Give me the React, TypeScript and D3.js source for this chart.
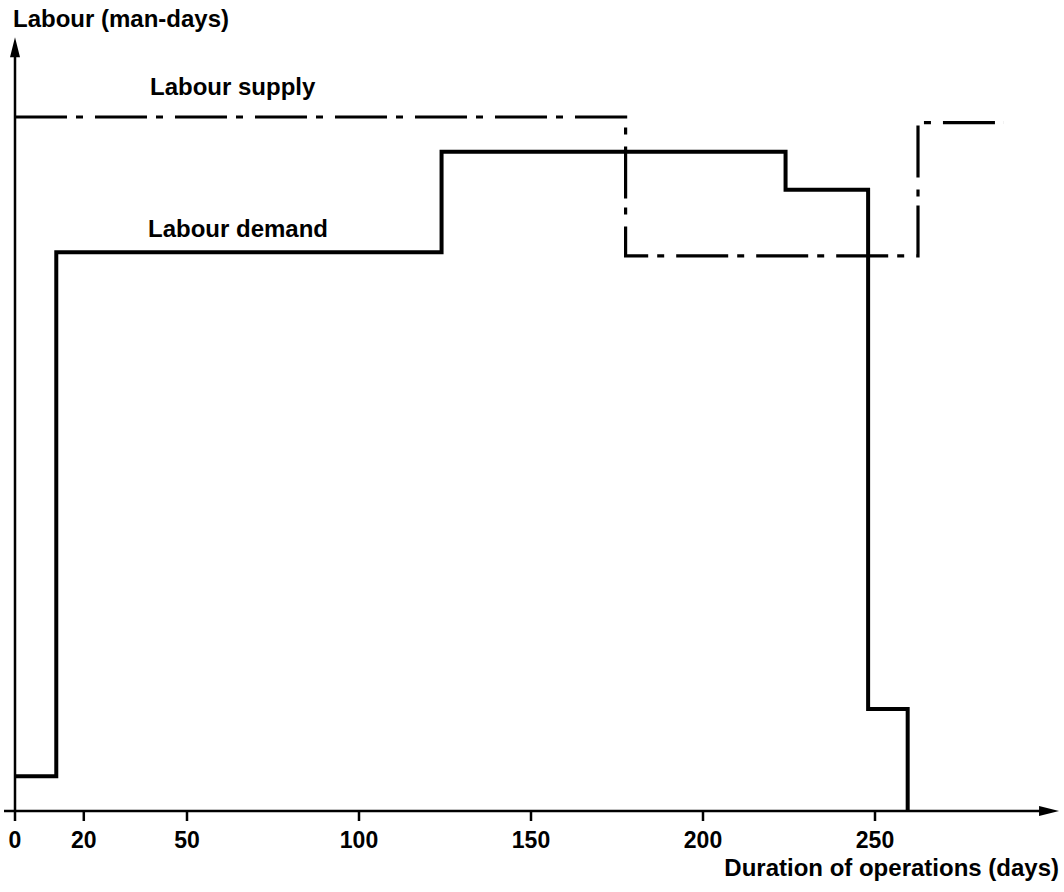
import { line, scaleLinear, curveStepAfter } from "d3";

const tickDays = [0, 20, 50, 100, 150, 200, 250];

// labour demand (step chart), day at which each level starts
const demandDays = [0, 12, 124, 224, 248, 259.5];
const demandValues = [5, 80.5, 95, 89.5, 14.7, 0];

// labour supply
const supplyDays = [0, 177.5, 262.5, 287.5];
const supplyValues = [100, 80, 99.2, 99.2];

const W = 1064;
const H = 892;
const FONT = "'Liberation Sans', Arial, Helvetica, sans-serif";

type Pt = { d: number; v: number };

const App = () => {
  const x = scaleLinear().domain([0, 250]).range([15, 875]);
  const y = scaleLinear().domain([0, 100]).range([811, 117]);

  const step = line<Pt>()
    .x((p) => x(p.d))
    .y((p) => y(p.v))
    .curve(curveStepAfter);

  const demand = demandDays.map((d, i) => ({ d, v: demandValues[i] }));
  const supply = supplyDays.map((d, i) => ({ d, v: supplyValues[i] }));

  const x0 = x(0);
  const y0 = y(0);
  const xEnd = x(303.5);
  const yTop = y(111.5);

  return (
    <svg
      width={W}
      height={H}
      style={{ position: "absolute", left: 0, top: 0, background: "#fff" }}
      fontFamily={FONT}
      fontWeight="bold"
    >
      {/* axes */}
      <line x1={4} x2={xEnd - 16} y1={y0} y2={y0} stroke="#000" strokeWidth={2.5} />
      <line x1={x0} x2={x0} y1={y0 + 10} y2={yTop + 16} stroke="#000" strokeWidth={2.5} />
      <path d={`M${xEnd},${y0} L${xEnd - 20},${y0 - 5} L${xEnd - 20},${y0 + 5} Z`} fill="#000" />
      <path d={`M${x0},${yTop} L${x0 - 5},${yTop + 20} L${x0 + 5},${yTop + 20} Z`} fill="#000" />

      {tickDays.map((t) => (
        <g key={t}>
          {t !== 0 && (
            <line x1={x(t)} x2={x(t)} y1={y0} y2={y0 + 10} stroke="#000" strokeWidth={2.5} />
          )}
          <text x={x(t)} y={848} fontSize={23} textAnchor="middle">
            {t}
          </text>
        </g>
      ))}

      {/* series */}
      <path
        d={step(supply) ?? ""}
        fill="none"
        stroke="#000"
        strokeWidth={3.2}
        strokeDasharray="52 9 7 12"
      />
      <path d={step(demand) ?? ""} fill="none" stroke="#000" strokeWidth={4} />

      {/* labels */}
      <text x={13} y={27} fontSize={24}>
        Labour (man-days)
      </text>
      <text x={150} y={95} fontSize={24}>
        Labour supply
      </text>
      <text x={148} y={237} fontSize={24}>
        Labour demand
      </text>
      <text x={1059} y={876} fontSize={24} textAnchor="end">
        Duration of operations (days)
      </text>
    </svg>
  );
};

export default App;
